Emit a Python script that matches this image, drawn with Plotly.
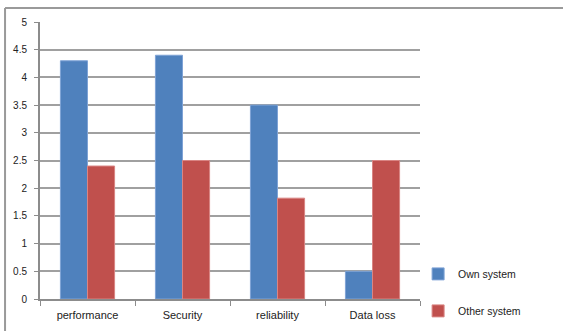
import plotly.graph_objects as go

categories = ["performance", "Security", "reliability", "Data loss"]
own_system = [4.3, 4.4, 3.5, 0.5]
other_system = [2.4, 2.5, 1.82, 2.5]
series_names = ["Own system", "Other system"]
y_ticks = [0, 0.5, 1, 1.5, 2, 2.5, 3, 3.5, 4, 4.5, 5]

fig = go.Figure()
fig.add_trace(go.Bar(x=categories, y=own_system, name=series_names[0],
                     marker=dict(color="#4f81bd", line=dict(color="#7fa3d6", width=1)),
                     legendgroup="a"))
fig.add_trace(go.Bar(x=categories, y=other_system, name=series_names[1],
                     marker=dict(color="#c0504d", line=dict(color="#d98583", width=1)),
                     legendgroup="b"))

fig.update_layout(
    width=563, height=331,
    margin=dict(l=40, r=143, t=22, b=32, autoexpand=False),
    paper_bgcolor="white", plot_bgcolor="white",
    barmode="group", bargap=0.43, bargroupgap=0,
    font=dict(family="Liberation Sans, Arial, sans-serif", size=10, color="#222222"),
    showlegend=True,
    legend=dict(x=0.995, y=0.143, xanchor="left", yanchor="top",
                tracegroupgap=18, font=dict(size=10.5),
                bgcolor="rgba(0,0,0,0)", itemwidth=30),
    xaxis=dict(showline=True, linecolor="#8c8c8c", linewidth=2,
               ticks="outside", tickcolor="#8c8c8c", ticklen=5,
               tickson="boundaries", showgrid=False, fixedrange=True,
               tickfont=dict(size=11), ticklabelstandoff=5, automargin=False),
    yaxis=dict(range=[0, 5], tickvals=y_ticks,
               ticktext=["%g" % v for v in y_ticks],
               showline=True, linecolor="#8c8c8c", linewidth=2,
               ticks="outside", tickcolor="#8c8c8c", ticklen=4,
               showgrid=True, gridcolor="#a0a0a0", gridwidth=2,
               zeroline=False, fixedrange=True, automargin=False,
               tickfont=dict(size=10), ticklabelstandoff=5),
    shapes=[
        dict(type="line", xref="paper", yref="paper", x0=-0.092, x1=-0.092, y0=-0.2, y1=1.0505,
             line=dict(color="#9a9a9a", width=2)),
        dict(type="line", xref="paper", yref="paper", x0=-0.092, x1=1.5, y0=1.0505, y1=1.0505,
             line=dict(color="#9a9a9a", width=2)),
    ],
)

fig.write_html("out.html")
